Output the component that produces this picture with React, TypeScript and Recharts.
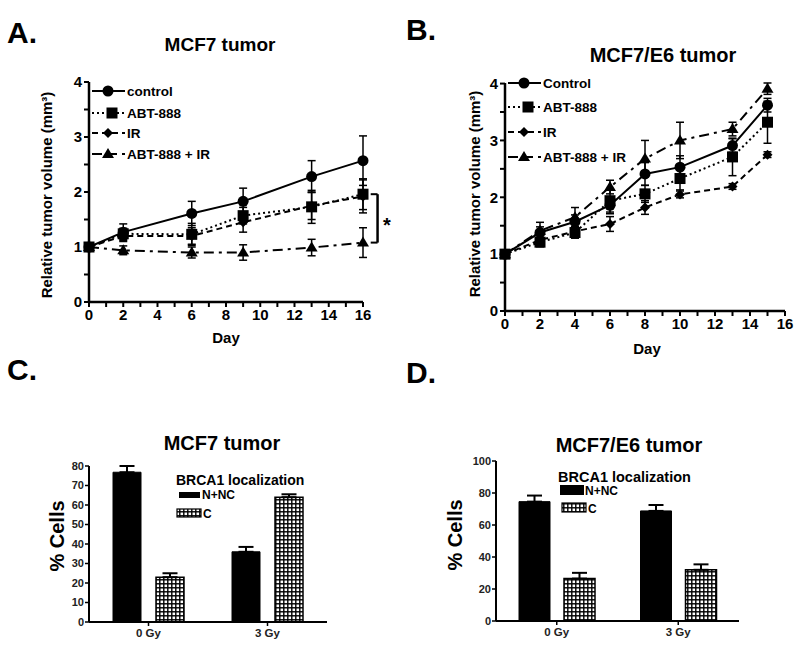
import React from "react";
import { LineChart, Line, XAxis, YAxis, ErrorBar, ReferenceLine, BarChart, Bar } from "recharts";

// Panel A - MCF7 tumor growth
const daysA = [0, 2, 6, 9, 13, 16];
const controlA = [1.0, 1.27, 1.61, 1.83, 2.28, 2.57];
const controlErrA = [0, 0.15, 0.22, 0.24, 0.29, 0.45];
const abtA = [1.0, 1.24, 1.23, 1.57, 1.73, 1.96];
const abtErrA = [0, 0.1, 0.2, 0.15, 0.3, 0.28];
const irA = [1.0, 1.2, 1.2, 1.45, 1.75, 1.92];
const irErrA = [0, 0.1, 0.15, 0.18, 0.25, 0.3];
const comboA = [1.0, 0.94, 0.9, 0.9, 0.99, 1.08];
const comboErrA = [0, 0.08, 0.1, 0.14, 0.15, 0.27];

// Panel B - MCF7/E6 tumor growth
const daysB = [0, 2, 4, 6, 8, 10, 13, 15];
const controlB = [1.0, 1.38, 1.57, 1.86, 2.41, 2.53, 2.91, 3.62];
const controlErrB = [0, 0.1, 0.12, 0.15, 0.2, 0.2, 0.12, 0.12];
const abtB = [1.0, 1.21, 1.38, 1.94, 2.06, 2.33, 2.71, 3.32];
const abtErrB = [0, 0.08, 0.1, 0.2, 0.15, 0.2, 0.33, 0.37];
const irB = [1.0, 1.25, 1.4, 1.53, 1.82, 2.05, 2.19, 2.75];
const irErrB = [0, 0.08, 0.08, 0.13, 0.12, 0.06, 0.05, 0.05];
const comboB = [1.0, 1.41, 1.65, 2.18, 2.68, 3.0, 3.2, 3.91];
const comboErrB = [0, 0.15, 0.17, 0.12, 0.32, 0.32, 0.12, 0.1];

// Panels C / D - BRCA1 localization
const doses = ["0 Gy", "3 Gy"];
const nncC = [76.8, 36];
const nncErrC = [3.2, 2.5];
const cC = [23, 64];
const cErrC = [2, 1.5];
const nncD = [74.6, 68.8];
const nncErrD = [3.8, 3.7];
const cD = [26.5, 32];
const cErrD = [3.6, 3.4];

const dayTicks = Array.from({ length: 17 }, (_, i) => i);
const volTicks = [0, 0.5, 1, 1.5, 2, 2.5, 3, 3.5, 4];

const FONT = "'Liberation Sans', Arial, Helvetica, sans-serif";

const rowsA = daysA.map((day, i) => ({
  day,
  control: controlA[i], controlErr: controlErrA[i],
  abt: abtA[i], abtErr: abtErrA[i],
  ir: irA[i], irErr: irErrA[i],
  combo: comboA[i], comboErr: comboErrA[i],
}));
const rowsB = daysB.map((day, i) => ({
  day,
  control: controlB[i], controlErr: controlErrB[i],
  abt: abtB[i], abtErr: abtErrB[i],
  ir: irB[i], irErr: irErrB[i],
  combo: comboB[i], comboErr: comboErrB[i],
}));
const rowsC = doses.map((dose, i) => ({ dose, nnc: nncC[i], nncErr: [0, nncErrC[i]], c: cC[i], cErr: [0, cErrC[i]] }));
const rowsD = doses.map((dose, i) => ({ dose, nnc: nncD[i], nncErr: [0, nncErrD[i]], c: cD[i], cErr: [0, cErrD[i]] }));

// markers
const circleDot = (p: any) => <circle key={`c${p.index}`} cx={p.cx} cy={p.cy} r={5.5} fill="#000" />;
const squareDot = (p: any) => <rect key={`s${p.index}`} x={p.cx - 5.5} y={p.cy - 5.5} width={11} height={11} fill="#000" />;
const diamondDot = (p: any) => (
  <polygon key={`d${p.index}`} points={`${p.cx},${p.cy - 5} ${p.cx + 5},${p.cy} ${p.cx},${p.cy + 5} ${p.cx - 5},${p.cy}`} fill="#000" />
);
const triangleDot = (p: any) => (
  <polygon key={`t${p.index}`} points={`${p.cx},${p.cy - 6} ${p.cx + 6},${p.cy + 4} ${p.cx - 6},${p.cy + 4}`} fill="#000" />
);

const series = [
  { key: "combo", dash: "10 5 3 5", dot: triangleDot },
  { key: "ir", dash: "6 4", dot: diamondDot },
  { key: "abt", dash: "2 3", dot: squareDot },
  { key: "control", dash: undefined, dot: circleDot },
];

const axisTick = { fontSize: 15, fontWeight: "bold", fill: "#000", fontFamily: FONT };
const barTickY = { fontSize: 11, fontWeight: "bold", fill: "#222", fontFamily: FONT };
const barTickX = { fontSize: 11.5, fontWeight: "bold", fill: "#222", fontFamily: FONT };

function GrowthChart({ rows, width, height, margin, bracket }: any) {
  return (
    <LineChart width={width} height={height} data={rows} margin={margin}>
      <XAxis
        dataKey="day"
        type="number"
        domain={[0, 16]}
        ticks={dayTicks}
        interval={0}
        tickFormatter={(v: number) => (v % 2 === 0 ? String(v) : "")}
        tick={axisTick}
        tickSize={5}
        tickLine={{ stroke: "#000", strokeWidth: 2 }}
        axisLine={{ stroke: "#000", strokeWidth: 2.5 }}
        height={30}
      />
      <YAxis
        type="number"
        domain={[0, 4]}
        ticks={volTicks}
        interval={0}
        tickFormatter={(v: number) => (Number.isInteger(v) ? String(v) : "")}
        tick={axisTick}
        tickSize={5}
        tickLine={{ stroke: "#000", strokeWidth: 2 }}
        axisLine={{ stroke: "#000", strokeWidth: 2.5 }}
        width={30}
      />
      {series.map((s) => (
        <Line
          key={s.key}
          dataKey={s.key}
          stroke="#000"
          strokeWidth={2}
          strokeDasharray={s.dash}
          dot={s.dot}
          activeDot={false}
          isAnimationActive={false}
        >
          <ErrorBar dataKey={`${s.key}Err`} width={4} stroke="#000" strokeWidth={1.5} direction="y" isAnimationActive={false} />
        </Line>
      ))}
      {bracket && (
        <>
          <ReferenceLine segment={[{ x: 16.85, y: bracket[0] }, { x: 16.85, y: bracket[1] }]} stroke="#000" strokeWidth={2.5} ifOverflow="visible" />
          <ReferenceLine segment={[{ x: 16.45, y: bracket[0] }, { x: 16.85, y: bracket[0] }]} stroke="#000" strokeWidth={2} ifOverflow="visible" />
          <ReferenceLine segment={[{ x: 16.45, y: bracket[1] }, { x: 16.85, y: bracket[1] }]} stroke="#000" strokeWidth={2} ifOverflow="visible" />
        </>
      )}
    </LineChart>
  );
}

function BrcaChart({ rows, width, height, margin, max, ticks, barSize, barGap }: any) {
  return (
    <BarChart width={width} height={height} data={rows} margin={margin} barGap={barGap}>
      <XAxis
        dataKey="dose"
        tick={barTickX}
        tickSize={4}
        tickMargin={3}
        tickLine={{ stroke: "#000", strokeWidth: 1.5 }}
        axisLine={{ stroke: "#000", strokeWidth: 2 }}
        height={20}
      />
      <YAxis
        domain={[0, max]}
        ticks={ticks}
        interval={0}
        tick={barTickY}
        tickSize={4}
        tickMargin={1}
        tickLine={{ stroke: "#000", strokeWidth: 1.5 }}
        axisLine={{ stroke: "#000", strokeWidth: 2 }}
        width={30}
      />
      <Bar dataKey="nnc" fill="#000" stroke="#000" strokeWidth={1} barSize={barSize} isAnimationActive={false}>
        <ErrorBar dataKey="nncErr" width={7.5} stroke="#000" strokeWidth={2} direction="y" isAnimationActive={false} />
      </Bar>
      <Bar dataKey="c" fill="url(#checker)" stroke="#000" strokeWidth={1.5} barSize={barSize} isAnimationActive={false}>
        <ErrorBar dataKey="cErr" width={7.5} stroke="#000" strokeWidth={2} direction="y" isAnimationActive={false} />
      </Bar>
    </BarChart>
  );
}

// legend sample for the line charts
function LineKey({ x, y, dash, shape, label, mx }: any) {
  const cx = mx ?? x + 16;
  let mark;
  if (shape === "circle") mark = <circle cx={cx} cy={y} r={5.5} fill="#000" />;
  else if (shape === "square") mark = <rect x={cx - 5.5} y={y - 5.5} width={11} height={11} fill="#000" />;
  else if (shape === "diamond")
    mark = <polygon points={`${cx},${y - 5} ${cx + 5},${y} ${cx},${y + 5} ${cx - 5},${y}`} fill="#000" />;
  else mark = <polygon points={`${cx},${y - 6} ${cx + 6},${y + 4} ${cx - 6},${y + 4}`} fill="#000" />;
  return (
    <g>
      <line x1={x} y1={y} x2={x + 33} y2={y} stroke="#000" strokeWidth={2} strokeDasharray={dash} />
      {mark}
      <text x={x + 35} y={y + 5} fontSize={13.5} fontWeight="bold">{label}</text>
    </g>
  );
}

const bold = { fontWeight: "bold" as const };

export default function App() {
  return (
    <div style={{ position: "absolute", left: 0, top: 0, width: 800, height: 647, background: "#fff", fontFamily: FONT, overflow: "hidden" }}>
      <svg width={0} height={0} style={{ position: "absolute" }}>
        <defs>
          <pattern id="checker" width={4} height={4} patternUnits="userSpaceOnUse">
            <rect width={4} height={4} fill="#000" />
            <rect x={0.5} y={0.5} width={2.6} height={2.6} fill="#fff" />
          </pattern>
        </defs>
      </svg>

      <div style={{ position: "absolute", left: 0, top: 0 }}>
        <GrowthChart rows={rowsA} width={400} height={350} margin={{ top: 82, right: 37, bottom: 18, left: 59 }} bracket={[abtA[abtA.length - 1], comboA[comboA.length - 1]]} />
      </div>
      <div style={{ position: "absolute", left: 400, top: 0 }}>
        <GrowthChart rows={rowsB} width={400} height={360} margin={{ top: 83, right: 15, bottom: 19, left: 75 }} />
      </div>
      <div style={{ position: "absolute", left: 0, top: 400 }}>
        <BrcaChart rows={rowsC} width={400} height={247} margin={{ top: 66, right: 73, bottom: 5, left: 59 }} max={80} ticks={[0, 10, 20, 30, 40, 50, 60, 70, 80]} barSize={28} barGap={15} />
      </div>
      <div style={{ position: "absolute", left: 400, top: 400 }}>
        <BrcaChart rows={rowsD} width={400} height={247} margin={{ top: 61, right: 61, bottom: 6, left: 66 }} max={100} ticks={[0, 20, 40, 60, 80, 100]} barSize={31} barGap={14} />
      </div>

      <svg width={800} height={647} style={{ position: "absolute", left: 0, top: 0, pointerEvents: "none" }}>
        {/* panel letters */}
        <text x={7} y={43} fontSize={30} {...bold}>A.</text>
        <text x={406} y={40} fontSize={30} {...bold}>B.</text>
        <text x={7} y={380} fontSize={30} {...bold}>C.</text>
        <text x={406} y={383} fontSize={30} {...bold}>D.</text>

        {/* titles */}
        <text x={220} y={51} fontSize={19} textAnchor="middle" {...bold}>MCF7 tumor</text>
        <text x={663} y={62} fontSize={20} textAnchor="middle" {...bold}>MCF7/E6 tumor</text>
        <text x={222} y={450} fontSize={20} textAnchor="middle" {...bold}>MCF7 tumor</text>
        <text x={629} y={452} fontSize={20} textAnchor="middle" {...bold}>MCF7/E6 tumor</text>

        {/* axis titles */}
        <text x={226} y={343} fontSize={15} textAnchor="middle" {...bold}>Day</text>
        <text x={647} y={354} fontSize={15} textAnchor="middle" {...bold}>Day</text>
        <text transform="translate(52,195) rotate(-90)" fontSize={15} textAnchor="middle" {...bold}>Relative tumor volume (mm³)</text>
        <text transform="translate(480,194) rotate(-90)" fontSize={15} textAnchor="middle" {...bold}>Relative tumor volume (mm³)</text>
        <text transform="translate(64,536) rotate(-90)" fontSize={20} textAnchor="middle" {...bold}>% Cells</text>
        <text transform="translate(462,535) rotate(-90)" fontSize={20} textAnchor="middle" {...bold}>% Cells</text>

        {/* significance mark */}
        <text x={387} y={232} fontSize={20} textAnchor="middle" {...bold}>*</text>

        {/* legend A */}
        <LineKey x={92} y={91} label="control" shape="circle" />
        <LineKey x={92} y={113} label="ABT-888" shape="square" dash="2 3" mx={112} />
        <LineKey x={92} y={133} label="IR" shape="diamond" dash="6 4" />
        <LineKey x={92} y={154} label="ABT-888 + IR" shape="triangle" dash="10 5" />

        {/* legend B */}
        <LineKey x={508} y={83} label="Control" shape="circle" />
        <LineKey x={508} y={107} label="ABT-888" shape="square" dash="2 3" mx={528} />
        <LineKey x={508} y={132} label="IR" shape="diamond" dash="6 4" />
        <LineKey x={508} y={157} label="ABT-888 + IR" shape="triangle" dash="10 5" />

        {/* legend C */}
        <text x={176} y={485} fontSize={14} {...bold}>BRCA1 localization</text>
        <rect x={179} y={492} width={21} height={6} fill="#000" />
        <text x={202} y={499} fontSize={12} {...bold}>N+NC</text>
        <rect x={177} y={509} width={24} height={8} fill="url(#checker)" stroke="#000" strokeWidth={1.2} />
        <text x={203} y={518} fontSize={12} {...bold}>C</text>

        {/* legend D */}
        <text x={558} y={482} fontSize={14.5} {...bold}>BRCA1 localization</text>
        <rect x={560} y={485} width={24} height={10} fill="#000" />
        <text x={585} y={495} fontSize={12} {...bold}>N+NC</text>
        <rect x={562} y={503} width={24} height={9} fill="url(#checker)" stroke="#000" strokeWidth={1.2} />
        <text x={588} y={513} fontSize={12} {...bold}>C</text>
      </svg>
    </div>
  );
}
